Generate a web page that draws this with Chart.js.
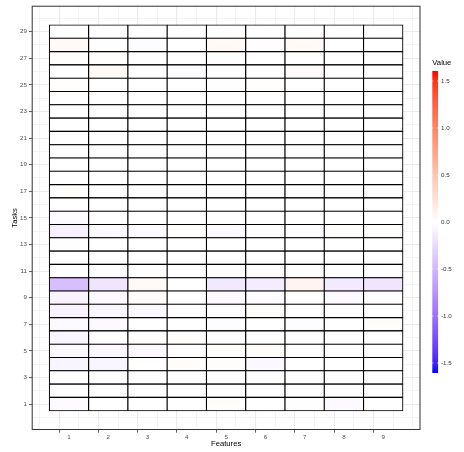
<!DOCTYPE html>
<html>
<head>
<meta charset="utf-8">
<script src="https://cdn.jsdelivr.net/npm/chart.js@4.4.1/dist/chart.umd.min.js"></script>
<style>
  html, body { margin: 0; padding: 0; background: #ffffff; }
  canvas { display: block; }
</style>
</head>
<body>
<canvas id="c" width="464" height="452"></canvas>
<script>
// ---------------- data ----------------
const features = [1, 2, 3, 4, 5, 6, 7, 8, 9];
const tasks = [1,2,3,4,5,6,7,8,9,10,11,12,13,14,15,16,17,18,19,20,21,22,23,24,25,26,27,28,29];
// values[i] = row for task tasks[i], one value per feature
const values = [
  [-0.03, 0.00, 0.00, 0.00, 0.01, 0.00, 0.005, -0.04, 0.00],   // 1
  [0, 0, 0, 0, 0, 0, 0, 0, 0],                                 // 2
  [0, 0, 0, 0, 0, 0, 0, 0, 0],                                 // 3
  [-0.07, -0.06, 0.00, 0.02, 0.02, -0.05, 0.00, 0.00, 0.00],   // 4
  [-0.05, -0.05, -0.05, 0.00, 0.01, 0.02, 0.00, 0.00, 0.00],   // 5
  [-0.06, 0.00, 0.02, 0.01, 0.00, 0.00, 0.00, 0.00, 0.00],     // 6
  [-0.04, -0.04, 0.00, 0.00, -0.02, 0.00, -0.02, 0.00, 0.01],  // 7
  [-0.08, -0.06, -0.05, 0.00, -0.01, 0.02, 0.00, 0.00, 0.00],  // 8
  [-0.08, -0.04, 0.01, 0.00, -0.04, -0.03, 0.00, -0.05, 0.00], // 9
  [-0.45, -0.18, 0.05, 0.00, -0.15, -0.13, 0.09, -0.14, -0.18],// 10
  [0.00, 0.00, 0.00, 0.005, 0.00, 0.005, 0.00, 0.00, 0.00],    // 11
  [0, 0, 0, 0, 0, 0, 0, 0, 0],                                 // 12
  [0.005, 0, 0, 0, 0, 0, 0, 0, 0],                             // 13
  [-0.10, -0.04, -0.03, 0.01, -0.04, 0.00, -0.02, 0.02, 0.02], // 14
  [-0.03, 0.00, 0.00, 0.00, -0.01, 0.00, 0.00, 0.00, 0.00],    // 15
  [0, 0, 0, 0, 0, 0, 0, 0, 0],                                 // 16
  [0.01, 0.005, 0, 0, 0, 0, 0, 0, 0],                          // 17
  [0, 0, 0, 0, 0, 0, 0, 0, 0],                                 // 18
  [0, 0, 0, 0, 0, 0, 0, 0, 0],                                 // 19
  [0, 0, 0, 0, 0, 0, 0, 0, 0],                                 // 20
  [0, 0, 0, 0, 0, 0, 0, 0, 0],                                 // 21
  [0, 0, 0, 0, 0, 0, 0, 0, 0],                                 // 22
  [0, 0, 0, 0, 0.005, 0, 0, 0, 0],                             // 23
  [0, 0, 0, 0, 0, 0, 0, 0, 0],                                 // 24
  [0.01, 0, 0, 0, 0.005, 0.01, 0, 0, 0],                       // 25
  [0.00, 0.05, 0.00, -0.02, -0.01, 0.005, 0.03, 0.00, 0.00],   // 26
  [0.01, 0.01, 0, 0, 0.005, 0, 0, 0, 0],                       // 27
  [0.04, 0.005, -0.02, 0.00, 0.05, 0.015, 0.05, 0.00, 0.00],   // 28
  [0, 0, 0, 0, 0, 0, 0, 0, 0]                                  // 29
];
const xTicks = [1, 2, 3, 4, 5, 6, 7, 8, 9];
const yTicks = [1, 3, 5, 7, 9, 11, 13, 15, 17, 19, 21, 23, 25, 27, 29];
const legendBreaks = [-1.5, -1.0, -0.5, 0.0, 0.5, 1.0, 1.5];
const legendLimits = [-1.606, 1.606];

// ---------------- colour scale (Lab interpolation blue-white-red) ----------------
const LAB_LOW = [32.30, 79.19, -107.86];
const LAB_MID = [100, 0, 0];
const LAB_HIGH = [53.24, 80.09, 67.20];
function lab2rgb(L, a, b) {
  let y = (L + 16) / 116, x = a / 500 + y, z = y - b / 200;
  const f = t => (t * t * t > 0.008856 ? t * t * t : (t - 16 / 116) / 7.787);
  x = 0.95047 * f(x); y = 1.0 * f(y); z = 1.08883 * f(z);
  const r = x * 3.2404542 + y * -1.5371385 + z * -0.4985314;
  const g = x * -0.9692660 + y * 1.8760108 + z * 0.0415560;
  const bb = x * 0.0556434 + y * -0.2040259 + z * 1.0572252;
  const gam = c => (c > 0.0031308 ? 1.055 * Math.pow(c, 1 / 2.4) - 0.055 : 12.92 * c);
  return [r, g, bb].map(c => Math.round(Math.max(0, Math.min(1, gam(c))) * 255));
}
function colorFor(v) {
  const lim = legendLimits[1];
  const t = Math.min(1, Math.abs(v) / lim);
  const end = v < 0 ? LAB_LOW : LAB_HIGH;
  const lab = LAB_MID.map((m, i) => m + (end[i] - m) * t);
  const [r, g, b] = lab2rgb(lab[0], lab[1], lab[2]);
  return `rgb(${r},${g},${b})`;
}

// ---------------- datasets: one per task row ----------------
const BW = 1.1;
const datasets = tasks.map((task, i) => ({
  label: 'Task ' + task,
  data: features.map((f, j) => ({ x: f, y: [task - 0.5, task + 0.5] })),
  backgroundColor: values[i].map(colorFor),
  borderColor: '#000000',
  borderWidth: BW,
  borderSkipped: false,
  inflateAmount: BW / 2,
  barThickness: 'flex',
  barPercentage: 1,
  categoryPercentage: 1,
  stack: 'tiles'
}));

const TICK_FONT = { family: 'Liberation Sans, Arial, sans-serif', size: 6.2 };
const TITLE_FONT = { family: 'Liberation Sans, Arial, sans-serif', size: 7.7 };
const GRID = '#EBEBEB';

function tickVal(c) { return c && c.tick ? c.tick.value : NaN; }
function isMajorX(v) { return Number.isFinite(v) && Math.abs(v - Math.round(v)) < 1e-6; }
function isMajorY(v) { return Number.isFinite(v) && Math.abs(Math.round(v) % 2) === 1; }

// panel frame + colour bar legend
const decor = {
  id: 'decor',
  afterDraw(chart) {
    const { ctx, chartArea: a } = chart;
    ctx.save();
    ctx.strokeStyle = '#333333';
    ctx.lineWidth = 1;
    ctx.strokeRect(a.left + 0.5, a.top + 0.5, a.right - a.left - 1, a.bottom - a.top - 1);

    // colour bar
    const bx = 432.3, bw = 5.8, by = 71, bh = 302;
    const grad = ctx.createLinearGradient(0, by, 0, by + bh);
    const N = 40;
    for (let k = 0; k <= N; k++) {
      const v = legendLimits[1] - (legendLimits[1] - legendLimits[0]) * k / N;
      grad.addColorStop(k / N, colorFor(v));
    }
    ctx.fillStyle = grad;
    ctx.fillRect(bx, by, bw, bh);
    const yOf = v => by + (legendLimits[1] - v) / (legendLimits[1] - legendLimits[0]) * bh;
    ctx.strokeStyle = '#ffffff';
    ctx.lineWidth = 0.6;
    ctx.font = `${TICK_FONT.size}px ${TICK_FONT.family}`;
    ctx.textAlign = 'left';
    ctx.textBaseline = 'middle';
    legendBreaks.forEach(v => {
      const y = yOf(v);
      ctx.beginPath();
      ctx.moveTo(bx, y); ctx.lineTo(bx + 1.2, y);
      ctx.moveTo(bx + bw - 1.2, y); ctx.lineTo(bx + bw, y);
      ctx.stroke();
      ctx.fillStyle = '#333333';
      ctx.fillText(v.toFixed(1), 441, y);
    });
    ctx.fillStyle = '#000000';
    ctx.font = `${TITLE_FONT.size}px ${TITLE_FONT.family}`;
    ctx.fillText('Value', 432.3, 63);
    ctx.restore();
  }
};

new Chart(document.getElementById('c'), {
  type: 'bar',
  data: { datasets },
  plugins: [decor],
  options: {
    responsive: false,
    animation: false,
    layout: { padding: { left: 0, top: 3, right: 43.5, bottom: 0 } },
    plugins: { legend: { display: false }, tooltip: { enabled: false } },
    scales: {
      x: {
        type: 'linear',
        min: 0.05, max: 9.95,
        offset: false,
        afterBuildTicks: s => {
          const t = [];
          for (let v = 0.5; v <= 9.5 + 1e-9; v += 0.5) t.push({ value: v });
          s.ticks = t;
        },
        afterFit: s => { s.height = 22; },
        border: { display: false },
        grid: {
          color: GRID,
          lineWidth: c => (isMajorX(tickVal(c)) ? 1.1 : 0.55),
          tickColor: c => (isMajorX(tickVal(c)) ? '#333333' : 'rgba(0,0,0,0)'),
          tickWidth: 0.8,
          tickLength: 2.7,
          drawTicks: true
        },
        ticks: {
          autoSkip: false,
          maxRotation: 0,
          padding: 1.2,
          color: '#4D4D4D',
          font: TICK_FONT,
          callback: v => (isMajorX(v) && xTicks.includes(Math.round(v)) ? String(Math.round(v)) : '')
        },
        title: { display: true, text: 'Features', color: '#000000', font: TITLE_FONT, padding: { top: 0, bottom: 3.5 } }
      },
      y: {
        type: 'linear',
        min: -0.95, max: 30.95,
        stacked: false,
        afterBuildTicks: s => {
          const t = [];
          for (let v = 0; v <= 30; v++) t.push({ value: v });
          s.ticks = t;
        },
        afterFit: s => { s.width = 31.7; },
        border: { display: false },
        grid: {
          color: GRID,
          lineWidth: c => (isMajorY(tickVal(c)) ? 1.1 : 0.55),
          tickColor: c => (isMajorY(tickVal(c)) ? '#333333' : 'rgba(0,0,0,0)'),
          tickWidth: 0.8,
          tickLength: 2.7,
          drawTicks: true
        },
        ticks: {
          autoSkip: false,
          padding: 2,
          color: '#4D4D4D',
          font: TICK_FONT,
          callback: v => (yTicks.includes(v) ? String(v) : '')
        },
        title: { display: true, text: 'Tasks', color: '#000000', font: TITLE_FONT, padding: { top: 10, bottom: 0 } }
      }
    }
  }
});
</script>
</body>
</html>
